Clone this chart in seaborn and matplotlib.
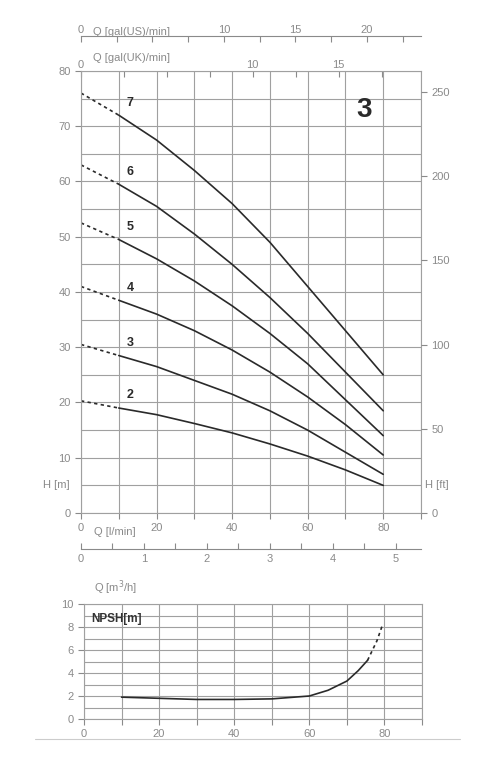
import matplotlib
matplotlib.use("Agg")
import matplotlib.pyplot as plt
import seaborn as sns
import numpy as np
import pandas as pd

sns.set_style("white")
plt.rcParams['font.family'] = ['Liberation Sans', 'DejaVu Sans']

q = [10, 20, 30, 40, 50, 60, 70, 80]
h7 = [72, 67.5, 62, 56, 49, 41, 33, 25]
h6 = [59.5, 55.5, 50.5, 45, 39, 32.5, 25.5, 18.5]
h5 = [49.5, 46, 42, 37.5, 32.5, 27, 20.5, 14]
h4 = [38.5, 36, 33, 29.5, 25.5, 21, 16, 10.5]
h3 = [28.5, 26.5, 24, 21.5, 18.5, 15, 11, 7]
h2 = [19, 17.8, 16.2, 14.5, 12.5, 10.3, 7.8, 5]
h0 = {'7': 76, '6': 63, '5': 52.5, '4': 41, '3': 30.5, '2': 20.3}
npsh_q = [10, 20, 30, 40, 50, 60, 65, 70, 73, 75.5]
npsh_h = [1.9, 1.8, 1.7, 1.7, 1.75, 2.0, 2.5, 3.3, 4.2, 5.1]
npsh_dq = [75.5, 78, 79.5]
npsh_dh = [5.1, 6.8, 8.2]

GREY = '#8a8a8a'
GRID = '#a0a0a0'
LINE = '#2a2a2a'

fig = plt.figure(figsize=(5, 7.59), dpi=100)
ax = fig.add_axes([0.162, 0.3241, 0.68, 0.5824])
curves = {'7': h7, '6': h6, '5': h5, '4': h4, '3': h3, '2': h2}
rows = []
for k, v in curves.items():
    for x, y in zip(q, v):
        rows.append((k, x, y))
df = pd.DataFrame(rows, columns=['n', 'Q', 'H'])
sns.lineplot(data=df, x='Q', y='H', units='n', estimator=None, color=LINE, lw=1.2, ax=ax)
for k, v in curves.items():
    ax.plot([0, 10], [h0[k], v[0]], ls=(0, (2, 2)), color=LINE, lw=1.2)
    ax.text(13, v[0] + 1.2, k, fontsize=9, fontweight='bold', color=LINE, ha='center', va='bottom')
ax.text(75, 73, '3', fontsize=20, fontweight='bold', color=LINE, ha='center', va='center')

ax.set_xlim(0, 90); ax.set_ylim(0, 80)
ax.set_xticks(np.arange(0, 91, 10))
ax.set_xticklabels(['0', '', '20', '', '40', '', '60', '', '80', ''])
ax.set_yticks(np.arange(0, 81, 10))
ax.set_yticks(np.arange(0, 81, 5), minor=True)
ax.grid(True, which='both', color=GRID, lw=0.8)
ax.set_xlabel(''); ax.set_ylabel('')
ax.tick_params(colors=GREY, labelsize=8, length=4, direction='out', left=True, bottom=True, which='major')
ax.tick_params(which='minor', length=0)
for s in ax.spines.values():
    s.set_color(GRID)
ax.text(3.5, -2.5, 'Q [l/min]', color=GREY, fontsize=8, va='top')
ax.text(-3, 5, 'H [m]', color=GREY, fontsize=8, ha='right', va='center')
ax.text(91, 5, 'H [ft]', color=GREY, fontsize=8, ha='left', va='center')

axr = ax.twinx()
axr.set_ylim(0, 80 * 3.281)
axr.set_yticks(np.arange(0, 251, 50))
axr.tick_params(colors=GREY, labelsize=8, length=4)
for s in axr.spines.values():
    s.set_visible(False)

# m3/h axis
am = ax.secondary_xaxis('bottom', functions=(lambda x: x * 0.06, lambda x: x / 0.06))
am.spines['bottom'].set_position(('outward', 26))
am.spines['bottom'].set_color(GREY)
am.set_xticks(np.arange(0, 5.51, 0.5))
am.set_xticklabels(['0' if i == 0 else (str(int(v)) if v == int(v) else '') for i, v in enumerate(np.arange(0, 5.51, 0.5))])
am.tick_params(colors=GREY, labelsize=8, length=4, direction='in')
ax.text(3.5, -13.5, 'Q [m$^3$/h]', color=GREY, fontsize=8, va='center')

# UK gal axis (on top spine)
auk = ax.secondary_xaxis('top', functions=(lambda x: x / 4.546, lambda x: x * 4.546))
auk.spines['top'].set_visible(False)
auk.set_xticks(np.arange(0, 19.1, 2.5))
auk.set_xticklabels(['0', '', '', '', '10', '', '15', ''])
auk.tick_params(colors=GREY, labelsize=8, length=4, direction='in', pad=1)
ax.text(3.3, 81.5, 'Q [gal(UK)/min]', color=GREY, fontsize=8, va='bottom')

# US gal axis
aus = ax.secondary_xaxis('top', functions=(lambda x: x / 3.785, lambda x: x * 3.785))
aus.spines['top'].set_position(('outward', 25))
aus.spines['top'].set_color(GREY)
aus.set_xticks(np.arange(0, 23.1, 2.5))
aus.set_xticklabels(['0', '', '', '', '10', '', '15', '', '20', ''])
aus.tick_params(colors=GREY, labelsize=8, length=4, direction='in', pad=1)
ax.text(3.3, 86.2, 'Q [gal(US)/min]', color=GREY, fontsize=8, va='bottom')

# NPSH
an = fig.add_axes([0.168, 0.0527, 0.676, 0.1515])
sns.lineplot(x=npsh_q, y=npsh_h, color=LINE, lw=1.2, ax=an)
an.plot(npsh_dq, npsh_dh, color=LINE, lw=1.2, ls=(0, (2, 2)))
an.set_xlim(0, 90); an.set_ylim(0, 10)
an.set_xticks(np.arange(0, 91, 10))
an.set_xticklabels(['0', '', '20', '', '40', '', '60', '', '80', ''])
an.set_yticks(np.arange(0, 11, 2))
an.set_yticks(np.arange(0, 11, 1), minor=True)
an.grid(True, which='both', color=GRID, lw=0.8)
an.tick_params(colors=GREY, labelsize=8, length=4, left=True, bottom=True, which='major')
an.tick_params(which='minor', length=0)
for s in an.spines.values():
    s.set_color(GRID)
an.text(2, 9.2, 'NPSH[m]', fontsize=8.5, fontweight='bold', color='#333333', va='top')
fig.add_artist(plt.Line2D([0.07, 0.92], [0.0265, 0.0265], color='#cccccc', lw=0.8))

fig.savefig('out.png', dpi=100)
